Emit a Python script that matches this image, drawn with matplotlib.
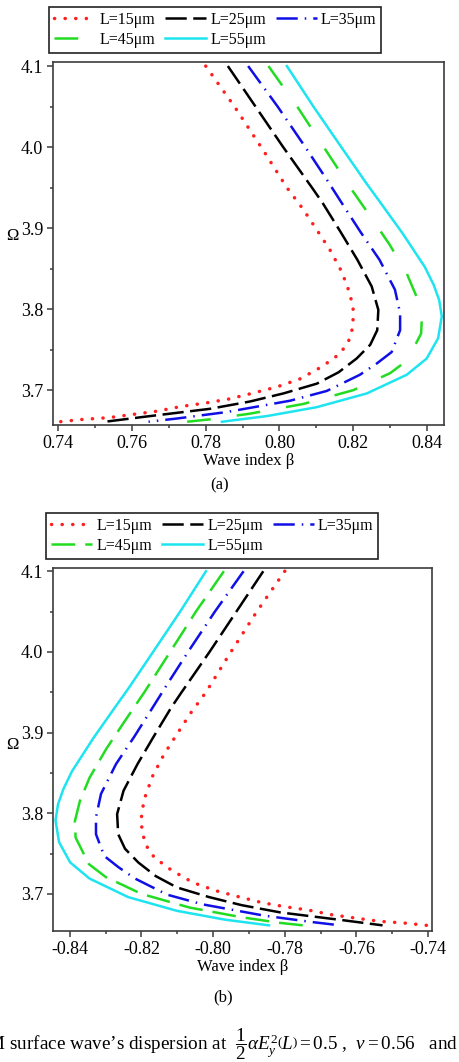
import matplotlib
matplotlib.use('Agg')
import matplotlib.pyplot as plt
from matplotlib.ticker import MultipleLocator, FormatStrFormatter

plt.rcParams['font.family'] = ['Liberation Serif', 'DejaVu Serif']
plt.rcParams['mathtext.fontset'] = 'custom'
plt.rcParams['mathtext.rm'] = 'Liberation Serif'
plt.rcParams['mathtext.it'] = 'Liberation Serif:italic'
plt.rcParams['axes.unicode_minus'] = False

# ---------------- data ----------------
labels = ['L=15μm', 'L=25μm', 'L=35μm', 'L=45μm', 'L=55μm']

omega_15 = [4.100, 4.050, 3.996, 3.950, 3.924, 3.898, 3.873, 3.846, 3.819, 3.799, 3.778,
            3.760, 3.745, 3.729, 3.714, 3.704, 3.696, 3.689, 3.684, 3.680, 3.674, 3.670,
            3.666, 3.664, 3.661]
beta_a_15 = [0.7800, 0.7878, 0.7956, 0.8020, 0.8063, 0.8101, 0.8137, 0.8169, 0.8191, 0.8200, 0.8199,
             0.8187, 0.8164, 0.8115, 0.8056, 0.7993, 0.7925, 0.7862, 0.7798, 0.7735, 0.7667, 0.7602,
             0.7536, 0.7469, 0.7404]

omega_25 = [4.100, 4.050, 4.000, 3.950, 3.931, 3.895, 3.861, 3.828, 3.799, 3.774, 3.756,
            3.739, 3.722, 3.708, 3.696, 3.686, 3.677, 3.667, 3.661]
beta_a_25 = [0.7860, 0.7935, 0.8010, 0.8088, 0.8117, 0.8166, 0.8211, 0.8250, 0.8268, 0.8265, 0.8246,
             0.8209, 0.8160, 0.8101, 0.8011, 0.7920, 0.7812, 0.7631, 0.7527]

omega_35 = [4.100, 4.050, 4.000, 3.960, 3.933, 3.895, 3.861, 3.824, 3.795, 3.774, 3.747,
            3.733, 3.719, 3.699, 3.687, 3.673, 3.665, 3.661]
beta_a_35 = [0.7915, 0.7995, 0.8070, 0.8128, 0.8166, 0.8220, 0.8271, 0.8313, 0.8327, 0.8327, 0.8304,
             0.8264, 0.8218, 0.8128, 0.8029, 0.7857, 0.7722, 0.7645]

omega_45 = [4.100, 4.050, 4.000, 3.950, 3.912, 3.880, 3.844, 3.815, 3.790, 3.770, 3.737,
            3.721, 3.700, 3.683, 3.671, 3.664, 3.661]
beta_a_45 = [0.7970, 0.8048, 0.8120, 0.8192, 0.8250, 0.8298, 0.8345, 0.8372, 0.8386, 0.8384, 0.8347,
             0.8300, 0.8200, 0.8065, 0.7920, 0.7812, 0.7749]

omega_55 = [4.100, 4.050, 4.003, 3.955, 3.935, 3.894, 3.852, 3.830, 3.811, 3.791, 3.764, 3.739,
            3.719, 3.696, 3.679, 3.668, 3.661]
beta_a_55 = [0.8020, 0.8092, 0.8163, 0.8236, 0.8268, 0.8333, 0.8394, 0.8418, 0.8433, 0.8440, 0.8430, 0.8399,
             0.8345, 0.8237, 0.8101, 0.7966, 0.7844]

# panel (b): negative wave index (mirror image of panel (a))
beta_b_15 = [-0.7800, -0.7878, -0.7956, -0.8020, -0.8063, -0.8101, -0.8137, -0.8169, -0.8191, -0.8200, -0.8199,
             -0.8187, -0.8164, -0.8115, -0.8056, -0.7993, -0.7925, -0.7862, -0.7798, -0.7735, -0.7667, -0.7602,
             -0.7536, -0.7469, -0.7404]
beta_b_25 = [-0.7860, -0.7935, -0.8010, -0.8088, -0.8117, -0.8166, -0.8211, -0.8250, -0.8268, -0.8265, -0.8246,
             -0.8209, -0.8160, -0.8101, -0.8011, -0.7920, -0.7812, -0.7631, -0.7527]
beta_b_35 = [-0.7915, -0.7995, -0.8070, -0.8128, -0.8166, -0.8220, -0.8271, -0.8313, -0.8327, -0.8327, -0.8304,
             -0.8264, -0.8218, -0.8128, -0.8029, -0.7857, -0.7722, -0.7645]
beta_b_45 = [-0.7970, -0.8048, -0.8120, -0.8192, -0.8250, -0.8298, -0.8345, -0.8372, -0.8386, -0.8384, -0.8347,
             -0.8300, -0.8200, -0.8065, -0.7920, -0.7812, -0.7749]
beta_b_55 = [-0.8020, -0.8092, -0.8163, -0.8236, -0.8268, -0.8333, -0.8394, -0.8418, -0.8433, -0.8440, -0.8430, -0.8399,
             -0.8345, -0.8237, -0.8101, -0.7966, -0.7844]

xticks_a = [0.74, 0.76, 0.78, 0.80, 0.82, 0.84]
xticks_b = [-0.84, -0.82, -0.80, -0.78, -0.76, -0.74]
yticks = [3.7, 3.8, 3.9, 4.0, 4.1]

# ---------------- styles ----------------
colors = ['#ff1f1f', '#000000', '#1010e6', '#22dc22', '#1ee4f0']
LW = 1.8
styles_a = [
    dict(ls=(0, (0.05, 3.0)), lw=2.5, dash_capstyle='round'),
    dict(ls=(0, (8.5, 2.6)), lw=LW),
    dict(ls=(0, (8.5, 2.8, 0.6, 2.8)), lw=LW),
    dict(ls=(0, (9.5, 10.5)), lw=LW),
    dict(ls='-', lw=LW),
]
styles_b = [
    dict(ls=(0, (0.05, 3.0)), lw=2.5, dash_capstyle='round'),
    dict(ls=(0, (8.5, 2.6)), lw=LW),
    dict(ls=(0, (8.5, 2.8, 0.6, 2.8)), lw=LW),
    dict(ls=(0, (9.5, 4.0)), lw=LW),
    dict(ls='-', lw=LW),
]

W, H = 459, 1062
fig = plt.figure(figsize=(W / 100, H / 100), dpi=100)

ax_a = fig.add_axes([53 / W, 1 - 425 / H, 391 / W, 363 / H])
ax_b = fig.add_axes([53 / W, 1 - 931 / H, 379 / W, 363 / H])

omegas = [omega_15, omega_25, omega_35, omega_45, omega_55]
series_a = [beta_a_15, beta_a_25, beta_a_35, beta_a_45, beta_a_55]
series_b = [beta_b_15, beta_b_25, beta_b_35, beta_b_45, beta_b_55]

handles_a = []
for b, om, c, st, lab in zip(series_a, omegas, colors, styles_a, labels):
    h, = ax_a.plot(b, om, color=c, label=lab, solid_joinstyle='round', **st)
    handles_a.append(h)
handles_b = []
for b, om, c, st, lab in zip(series_b, omegas, colors, styles_b, labels):
    h, = ax_b.plot(b, om, color=c, label=lab, solid_joinstyle='round', **st)
    handles_b.append(h)

ax_a.set_xlim(0.7386, 0.8446)
ax_a.set_ylim(3.657, 4.105)
ax_b.set_xlim(-0.8447, -0.7389)
ax_b.set_ylim(3.654, 4.104)

spine_col = '#3c3c3c'
for ax, xt in ((ax_a, xticks_a), (ax_b, xticks_b)):
    ax.set_xticks(xt)
    ax.set_yticks(yticks)
    ax.xaxis.set_minor_locator(MultipleLocator(0.01))
    ax.yaxis.set_minor_locator(MultipleLocator(0.05))
    ax.xaxis.set_major_formatter(FormatStrFormatter('%.2f'))
    ax.yaxis.set_major_formatter(FormatStrFormatter('%.1f'))
    ax.tick_params(which='both', direction='out', color=spine_col, width=1.1,
                   top=False, right=False, labelsize=13, pad=3)
    ax.tick_params(which='major', length=4)
    ax.tick_params(which='minor', length=2.5)
    for s in ax.spines.values():
        s.set_color(spine_col)
        s.set_linewidth(1.2)
    ax.set_xlabel('Wave index β', fontsize=12, labelpad=1)
    ax.set_ylabel('Ω', fontsize=12, rotation=0)

ax_a.yaxis.set_label_coords(-0.105, 0.50)
ax_b.yaxis.set_label_coords(-0.108, 0.49)

order = [0, 3, 1, 4, 2]
leg_kw = dict(ncol=3, loc='upper left', borderaxespad=0, fontsize=11.5,
              frameon=True, fancybox=False, framealpha=1, edgecolor='#222222',
              handlelength=2.6, handletextpad=0.25, columnspacing=0.6,
              labelspacing=0.25, borderpad=0.3)
leg_a = fig.legend([handles_a[i] for i in order], [labels[i] for i in order],
                   bbox_to_anchor=(49 / W, 1 - 7 / H), **leg_kw)
leg_a.get_frame().set_linewidth(1.2)
leg_b = fig.legend([handles_b[i] for i in order], [labels[i] for i in order],
                   bbox_to_anchor=(46 / W, 1 - 513 / H), **leg_kw)
leg_b.get_frame().set_linewidth(1.2)

fig.text(220 / W, 1 - 485 / H, '(a)', ha='center', va='center', fontsize=12)
fig.text(223 / W, 1 - 997 / H, '(b)', ha='center', va='center', fontsize=12)

fig.text(458 / W, 1 - 1050 / H,
         'TM surface wave’s dispersion at  $\\dfrac{1}{2}\\alpha E_y^2\\left(L\\right)=0.5$ ,  $v=0.56$   and',
         ha='right', va='baseline', fontsize=13.75)

fig.savefig('out.png', dpi=100)
